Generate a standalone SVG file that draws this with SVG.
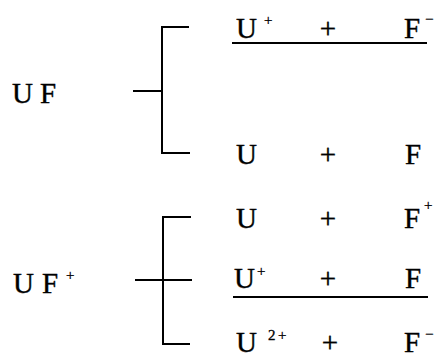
<svg xmlns="http://www.w3.org/2000/svg" width="442" height="359" viewBox="0 0 442 359">
<style>
.t { font-family: "Liberation Serif", "Times New Roman", serif; font-size: 29px; fill: #000; stroke: #000; stroke-width: 0.4; }
.s { font-family: "Liberation Serif", "Times New Roman", serif; font-size: 15px; fill: #000; stroke: #000; stroke-width: 0.3; }
.m { text-anchor: middle; }
.ln { stroke: #000; stroke-width: 2; fill: none; }
</style>
<rect width="442" height="359" fill="#fff"/>
<g id="connectors">
  <path class="ln" d="M133,91 H162 M189,27 H162 V153 H190"/>
  <path class="ln" d="M135,280 H192 M191,217 H163 V344 H190"/>
  <path class="ln" d="M232,43 H427"/>
  <path class="ln" d="M233,297 H428"/>
</g>
<g id="node-UF">
  <text class="t" x="12" y="103">U</text>
  <text class="t" x="40" y="103">F</text>
</g>
<g id="node-UFplus">
  <text class="t" x="13" y="293">U</text>
  <text class="t" x="42" y="293">F</text>
  <text class="s" x="66" y="280">+</text>
</g>
<g id="node-row1">
  <text class="t" x="236" y="38">U</text>
  <text class="s" x="264" y="25">+</text>
  <text class="t m" x="328" y="38">+</text>
  <text class="t" x="404" y="38">F</text>
  <text class="s" x="425" y="24">−</text>
</g>
<g id="node-row2">
  <text class="t" x="236" y="164">U</text>
  <text class="t m" x="328" y="164">+</text>
  <text class="t" x="405" y="164">F</text>
</g>
<g id="node-row3">
  <text class="t" x="236" y="228">U</text>
  <text class="t m" x="328" y="228">+</text>
  <text class="t" x="404" y="228">F</text>
  <text class="s" x="424" y="210">+</text>
</g>
<g id="node-row4">
  <text class="t" x="234" y="288">U</text>
  <text class="s" x="257" y="276">+</text>
  <text class="t m" x="328" y="288">+</text>
  <text class="t" x="405" y="288">F</text>
</g>
<g id="node-row5">
  <text class="t" x="236" y="352">U</text>
  <text class="s" x="268" y="340">2</text>
  <text class="s" x="278" y="340">+</text>
  <text class="t m" x="330" y="352">+</text>
  <text class="t" x="404" y="352">F</text>
  <text class="s" x="425" y="339">−</text>
</g>
</svg>
